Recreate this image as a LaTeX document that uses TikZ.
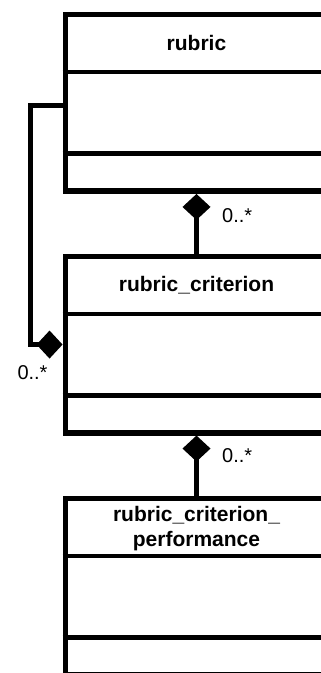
\documentclass[tikz,border=0pt]{standalone}
\usepackage{fontspec}
\setmainfont{Liberation Sans}
\usetikzlibrary{arrows.meta}
\begin{document}
\begin{tikzpicture}[x=1pt,y=-1pt,
  classbox/.style={draw=black, line width=5.5pt, outer sep=2.75pt, rectangle,
    minimum width=262.4pt, minimum height=176.5pt, anchor=north west, inner sep=0pt},
  divider/.style={draw=black, line width=4.5pt},
  conn/.style={draw=black, line width=5pt},
  title/.style={font=\fontsize{21}{25}\selectfont\bfseries, align=center, inner sep=0pt},
  mult/.style={font=\fontsize{20}{24}\selectfont, inner sep=0pt, anchor=west},
  comp/.tip={Diamond[length=26pt,width=28pt]}
]
\useasboundingbox (0,0) rectangle (321,673);
\clip (0,0) rectangle (321,673);
\fill[white] (0,0) rectangle (321,673);

% class boxes
\node[classbox] (rubric) at (62.55,11.95) {};
\node[classbox] (crit) at (62.55,253.55) {};
\node[classbox] (perf) at (62.55,495.75) {};

% compartments
\foreach \b in {rubric,crit,perf}{
  \draw[divider] ([yshift=-60.25pt]\b.north west) -- ([yshift=-60.25pt]\b.north east);
  \draw[divider] ([yshift=-141.75pt]\b.north west) -- ([yshift=-141.75pt]\b.north east);
}

% titles
\node[title] (rubric-title) at ([yshift=-31.5pt]rubric.north) {rubric};
\node[title] (crit-title) at ([yshift=-31.5pt]crit.north) {rubric\_criterion};
\node[title] (perf-title) at ([yshift=-32.5pt]perf.north) {rubric\_criterion\_\\performance};

% connectors
\draw[conn, {comp}-] (rubric.south) -- (crit.north);
\draw[conn, {comp}-] (crit.south) -- (perf.north);
\draw[conn, -{comp}] ([yshift=-3pt]rubric.west) -- ++(-32.5,0) |- (crit.west);

% multiplicities
\node[mult] (m1) at (222,215.5) {0..*};
\node[mult] (m2) at (222,455.7) {0..*};
\node[mult] (m3) at (17.3,373) {0..*};
\end{tikzpicture}
\end{document}
